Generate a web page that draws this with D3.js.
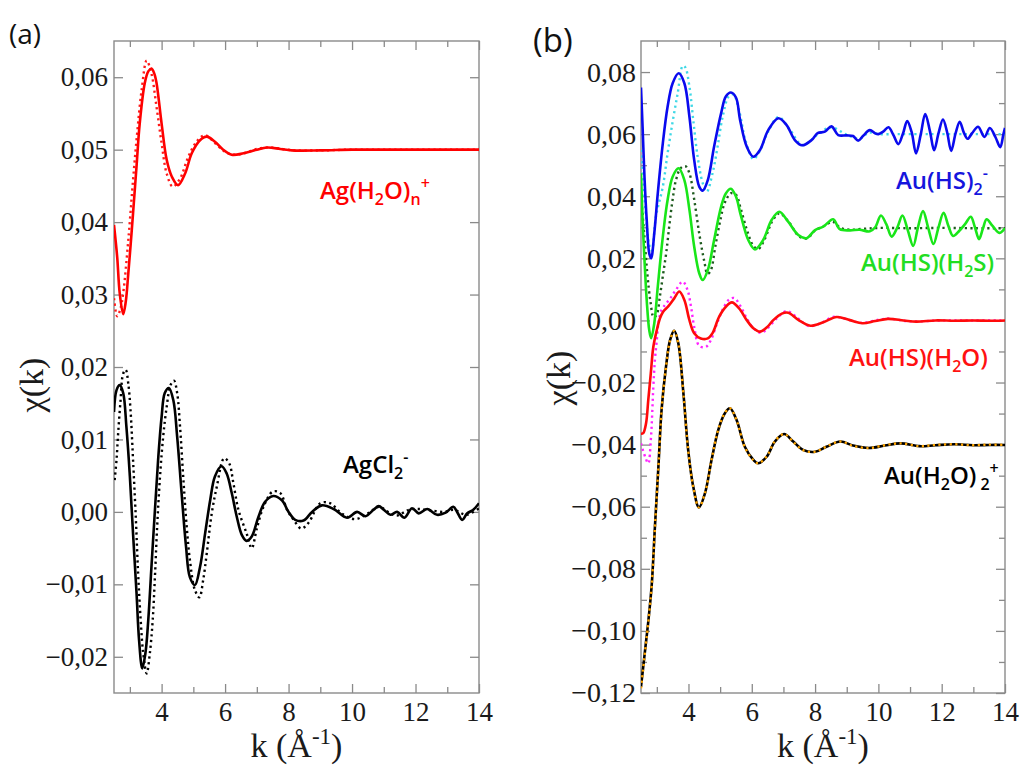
<!DOCTYPE html>
<html><head><meta charset="utf-8">
<script src="https://cdn.jsdelivr.net/npm/d3@7"></script>
<style>html,body{margin:0;padding:0;background:#fff;}svg{display:block;}</style>
</head><body>
<svg id="chart" width="1023" height="767"></svg>
<script>
// ---------------- DATA ----------------
const kMajorTicks = [4, 6, 8, 10, 12, 14];
const kMinorTicks = [3, 5, 7, 9, 11, 13];
const yTicksA = [-0.02, -0.01, 0.00, 0.01, 0.02, 0.03, 0.04, 0.05, 0.06];
const yTicksB = [-0.12, -0.10, -0.08, -0.06, -0.04, -0.02, 0.00, 0.02, 0.04, 0.06, 0.08];
const yMinorB = [-0.11, -0.09, -0.07, -0.05, -0.03, -0.01, 0.01, 0.03, 0.05, 0.07];

// Panel (a): Ag(H2O)n+  (solid / dotted)
const agAqSolid = [[2.5,0.0396],[2.6,0.0352],[2.68,0.0302],[2.79,0.0273],[2.87,0.0290],[2.95,0.0329],[3.03,0.0372],[3.1,0.0412],[3.21,0.0477],[3.31,0.0536],[3.47,0.0592],[3.58,0.0608],[3.68,0.0612],[3.77,0.0605],[3.84,0.0592],[4.0,0.0536],[4.16,0.0486],[4.32,0.0463],[4.52,0.0451],[4.74,0.0467],[4.95,0.0495],[5.21,0.0513],[5.42,0.0518],[5.68,0.0511],[5.94,0.0500],[6.21,0.0493],[6.58,0.0495],[7.0,0.0500],[7.32,0.0503],[7.74,0.0501],[8.1,0.0499],[9.0,0.0499],[10,0.0500],[11,0.0500],[12,0.0500],[13,0.0500],[14,0.0500]];
const agAqDotted = [[2.5,0.0295],[2.6,0.0270],[2.7,0.0280],[2.79,0.0302],[2.95,0.0375],[3.1,0.0458],[3.23,0.0523],[3.37,0.0582],[3.53,0.0623],[3.68,0.0605],[3.84,0.0559],[4.0,0.0509],[4.16,0.0467],[4.35,0.0449],[4.58,0.0460],[4.84,0.0490],[5.1,0.0511],[5.37,0.0520],[5.68,0.0509],[6.0,0.0497],[6.26,0.0493],[6.6,0.0495],[7.0,0.0501],[7.4,0.0503],[7.8,0.0501],[8.2,0.0499],[9,0.0499],[10,0.0500],[11,0.0500],[12,0.0500],[13,0.0500],[14,0.0500]];

// Panel (a): AgCl2-  (solid / dotted)
const agClSolid = [[2.5,0.0138],[2.58,0.0168],[2.68,0.0175],[2.79,0.0164],[2.89,0.0118],[3.0,0.0049],[3.1,-0.0030],[3.21,-0.0112],[3.29,-0.0177],[3.39,-0.0216],[3.49,-0.0195],[3.58,-0.0149],[3.68,-0.0076],[3.79,0.0003],[3.89,0.0072],[4.0,0.0131],[4.1,0.0164],[4.23,0.0171],[4.37,0.0154],[4.49,0.0104],[4.63,0.0026],[4.77,-0.0048],[4.89,-0.0090],[5.05,-0.0101],[5.21,-0.0076],[5.37,-0.0030],[5.53,0.0016],[5.68,0.0049],[5.89,0.0063],[6.05,0.0053],[6.21,0.0026],[6.37,-0.0007],[6.53,-0.0032],[6.68,-0.0040],[6.84,-0.0034],[7.05,-0.0007],[7.26,0.0014],[7.52,0.0022],[7.79,0.0016],[8.0,0.0000],[8.21,-0.0011],[8.47,-0.0012],[8.74,0.0000],[9.05,0.0009],[9.42,0.0004],[9.84,-0.0008],[10.16,0.0000],[10.42,-0.0006],[10.68,0.0003],[10.84,0.0008],[11.0,0.0003],[11.21,-0.0004],[11.42,0.0000],[11.65,-0.0008],[11.89,0.0005],[12.1,-0.0002],[12.37,0.0004],[12.68,-0.0004],[12.95,-0.0001],[13.19,0.0007],[13.31,0.0000],[13.47,-0.0011],[13.63,-0.0002],[13.82,0.0003],[14.0,0.0012]];
const agClDotted = [[2.52,0.0044],[2.58,0.0072],[2.63,0.0108],[2.7,0.0150],[2.79,0.0191],[2.87,0.0196],[2.95,0.0177],[3.02,0.0141],[3.1,0.0072],[3.19,-0.0011],[3.26,-0.0085],[3.34,-0.0149],[3.42,-0.0195],[3.53,-0.0223],[3.63,-0.0195],[3.72,-0.0149],[3.79,-0.0089],[3.86,-0.0020],[3.95,0.0049],[4.05,0.0104],[4.16,0.0145],[4.28,0.0175],[4.39,0.0181],[4.49,0.0164],[4.58,0.0118],[4.68,0.0049],[4.79,-0.0020],[4.89,-0.0066],[5.05,-0.0108],[5.19,-0.0118],[5.31,-0.0094],[5.42,-0.0058],[5.58,-0.0002],[5.74,0.0035],[5.97,0.0074],[6.13,0.0067],[6.26,0.0040],[6.42,0.0003],[6.68,-0.0030],[6.84,-0.0050],[7.0,-0.0023],[7.21,0.0007],[7.5,0.0028],[7.74,0.0026],[7.95,0.0003],[8.16,-0.0011],[8.4,-0.0023],[8.63,-0.0015],[9.0,0.0012],[9.3,0.0012],[9.7,-0.0003],[10.1,-0.0010],[10.5,-0.0002],[10.85,0.0007],[11.2,-0.0002],[11.42,-0.0005],[11.8,0.0003],[12.1,0.0004],[12.5,0.0002],[12.9,0.0000],[13.2,0.0003],[13.6,-0.0004],[14.0,0.0005]];

// Panel (b): Au(HS)2-
const auHS2Solid = [[2.5,0.0750],[2.55,0.0624],[2.61,0.0463],[2.68,0.0324],[2.76,0.0216],[2.82,0.0200],[2.92,0.0281],[3.03,0.0409],[3.19,0.0571],[3.34,0.0688],[3.5,0.0764],[3.69,0.0796],[3.87,0.0764],[4.03,0.0656],[4.18,0.0517],[4.34,0.0431],[4.45,0.0418],[4.61,0.0452],[4.81,0.0560],[5.03,0.0667],[5.18,0.0721],[5.34,0.0734],[5.5,0.0718],[5.63,0.0646],[5.84,0.0560],[6.05,0.0527],[6.26,0.0549],[6.52,0.0613],[6.84,0.0651],[7.1,0.0629],[7.36,0.0581],[7.59,0.0564],[7.89,0.0581],[8.08,0.0603],[8.31,0.0608],[8.52,0.0625],[8.73,0.0597],[9.0,0.0596],[9.2,0.0594],[9.36,0.0579],[9.52,0.0595],[9.73,0.0613],[9.89,0.0603],[10.0,0.0600],[10.15,0.0608],[10.32,0.0622],[10.48,0.0596],[10.63,0.0568],[10.78,0.0603],[10.91,0.0642],[11.05,0.0607],[11.19,0.0538],[11.34,0.0600],[11.48,0.0665],[11.63,0.0609],[11.76,0.0548],[11.9,0.0603],[12.04,0.0647],[12.17,0.0607],[12.3,0.0546],[12.44,0.0603],[12.57,0.0640],[12.7,0.0605],[12.82,0.0585],[12.96,0.0603],[13.15,0.0624],[13.35,0.0591],[13.52,0.0620],[13.7,0.0590],[13.85,0.0558],[13.95,0.0600],[14.0,0.0620]];
const auHS2Dotted = [[2.5,0.0549],[2.58,0.0440],[2.67,0.0320],[2.76,0.0243],[2.84,0.0225],[2.97,0.0334],[3.19,0.0431],[3.34,0.0538],[3.5,0.0640],[3.66,0.0732],[3.82,0.0820],[3.9,0.0815],[4.03,0.0753],[4.15,0.0646],[4.29,0.0527],[4.45,0.0442],[4.58,0.0415],[4.76,0.0474],[4.92,0.0560],[5.08,0.0656],[5.27,0.0721],[5.42,0.0728],[5.6,0.0676],[5.8,0.0580],[6.05,0.0520],[6.25,0.0545],[6.5,0.0605],[6.84,0.0655],[7.2,0.0615],[7.6,0.0565],[8.1,0.0600],[8.5,0.0622],[9.0,0.0598],[9.4,0.0585],[9.7,0.0605],[10.0,0.0600],[10.5,0.0600],[11,0.0600],[12,0.0600],[13,0.0600],[14,0.0600]];

// Panel (b): Au(HS)(H2S)
const auHSH2SSolid = [[2.5,0.0474],[2.55,0.0324],[2.61,0.0195],[2.68,0.0066],[2.76,-0.0031],[2.82,-0.0057],[2.92,-0.0009],[3.03,0.0109],[3.19,0.0270],[3.34,0.0388],[3.5,0.0463],[3.69,0.0490],[3.87,0.0452],[4.03,0.0356],[4.18,0.0238],[4.34,0.0152],[4.45,0.0130],[4.61,0.0162],[4.81,0.0259],[5.03,0.0366],[5.18,0.0409],[5.34,0.0424],[5.5,0.0399],[5.65,0.0340],[5.89,0.0259],[6.1,0.0229],[6.36,0.0259],[6.63,0.0324],[6.87,0.0350],[7.15,0.0318],[7.47,0.0275],[7.73,0.0265],[8.0,0.0291],[8.26,0.0302],[8.57,0.0326],[8.78,0.0294],[9.1,0.0290],[9.4,0.0292],[9.73,0.0287],[9.9,0.0300],[10.08,0.0338],[10.25,0.0310],[10.42,0.0270],[10.6,0.0300],[10.76,0.0338],[10.93,0.0290],[11.1,0.0240],[11.25,0.0300],[11.41,0.0352],[11.57,0.0300],[11.74,0.0246],[11.9,0.0300],[12.06,0.0347],[12.21,0.0305],[12.36,0.0272],[12.55,0.0288],[12.75,0.0312],[12.92,0.0334],[13.05,0.0300],[13.18,0.0262],[13.3,0.0295],[13.42,0.0326],[13.6,0.0305],[13.82,0.0282],[14.0,0.0297]];
const auHSH2SDotted = [[2.5,0.0400],[2.6,0.0280],[2.7,0.0150],[2.8,0.0060],[2.9,0.0010],[3.0,0.0020],[3.1,0.0080],[3.2,0.0150],[3.3,0.0220],[3.4,0.0310],[3.5,0.0390],[3.6,0.0450],[3.75,0.0490],[3.9,0.0497],[4.03,0.0474],[4.18,0.0390],[4.34,0.0280],[4.5,0.0190],[4.6,0.0150],[4.7,0.0160],[4.85,0.0240],[5.0,0.0320],[5.15,0.0380],[5.35,0.0410],[5.5,0.0405],[5.65,0.0360],[5.85,0.0290],[6.05,0.0240],[6.2,0.0230],[6.4,0.0260],[6.65,0.0320],[6.87,0.0345],[7.15,0.0320],[7.5,0.0270],[7.75,0.0265],[8.0,0.0290],[8.3,0.0305],[8.55,0.0318],[8.8,0.0298],[9.1,0.0292],[9.5,0.0295],[10,0.0298],[11,0.0297],[12,0.0298],[13,0.0297],[14,0.0297]];

// Panel (b): Au(HS)(H2O)
const auHSH2OSolid = [[2.5,-0.0365],[2.57,-0.0363],[2.66,-0.0331],[2.73,-0.0256],[2.81,-0.0170],[2.89,-0.0085],[3.0,-0.0031],[3.1,0.0007],[3.2,0.0028],[3.36,0.0045],[3.55,0.0071],[3.71,0.0093],[3.87,0.0066],[4.03,0.0001],[4.18,-0.0041],[4.39,-0.0058],[4.61,-0.0058],[4.76,-0.0041],[4.97,0.0012],[5.18,0.0044],[5.37,0.0058],[5.6,0.0039],[5.84,0.0001],[6.05,-0.0025],[6.26,-0.0036],[6.5,-0.0020],[6.68,0.0001],[6.95,0.0022],[7.15,0.0025],[7.47,0.0002],[7.85,-0.0017],[8.26,-0.0006],[8.68,0.0011],[9.1,0.0001],[9.5,-0.0009],[9.9,-0.0002],[10.3,0.0005],[10.8,0.0000],[11.2,-0.0004],[11.8,0.0000],[12.4,-0.0001],[13.0,0.0000],[13.5,-0.0001],[14,0.0000]];
const auHSH2ODotted = [[2.5,-0.0396],[2.63,-0.0439],[2.73,-0.0460],[2.81,-0.0385],[2.89,-0.0213],[2.94,-0.0127],[3.0,-0.0063],[3.05,-0.0009],[3.15,0.0034],[3.3,0.0055],[3.45,0.0075],[3.6,0.0098],[3.82,0.0125],[3.97,0.0098],[4.08,0.0044],[4.18,-0.0020],[4.34,-0.0082],[4.55,-0.0085],[4.71,-0.0063],[4.9,-0.0010],[5.1,0.0039],[5.29,0.0068],[5.45,0.0072],[5.65,0.0045],[5.85,0.0005],[6.05,-0.0025],[6.3,-0.0040],[6.5,-0.0025],[6.8,0.0008],[7.1,0.0030],[7.4,0.0012],[7.8,-0.0018],[8.2,-0.0008],[8.6,0.0012],[9.0,0.0004],[9.45,-0.0008],[10.0,0.0002],[10.3,0.0006],[11,-0.0003],[12,0.0000],[13,0.0000],[14,0.0000]];

// Panel (b): Au(H2O)2+
const auH2OSolid = [[2.5,-0.1180],[2.63,-0.1061],[2.73,-0.0970],[2.84,-0.0850],[2.94,-0.0664],[3.05,-0.0471],[3.15,-0.0288],[3.29,-0.0149],[3.42,-0.0063],[3.55,-0.0033],[3.68,-0.0074],[3.84,-0.0235],[3.99,-0.0417],[4.15,-0.0535],[4.33,-0.0602],[4.52,-0.0557],[4.73,-0.0449],[4.94,-0.0353],[5.15,-0.0299],[5.31,-0.0283],[5.52,-0.0321],[5.78,-0.0407],[6.05,-0.0449],[6.2,-0.0460],[6.47,-0.0439],[6.73,-0.0390],[7.02,-0.0366],[7.31,-0.0390],[7.62,-0.0417],[8.0,-0.0423],[8.36,-0.0407],[8.8,-0.0390],[9.2,-0.0403],[9.7,-0.0411],[10.2,-0.0403],[10.7,-0.0396],[11.3,-0.0405],[11.8,-0.0402],[12.4,-0.0399],[13.0,-0.0402],[13.5,-0.0401],[14,-0.0401]];
const auH2ODotted = [[2.5,-0.1185],[2.63,-0.1065],[2.73,-0.0972],[2.84,-0.0852],[2.94,-0.0666],[3.05,-0.0473],[3.15,-0.0290],[3.29,-0.0150],[3.42,-0.0064],[3.55,-0.0034],[3.68,-0.0075],[3.84,-0.0236],[3.99,-0.0418],[4.15,-0.0536],[4.33,-0.0602],[4.52,-0.0556],[4.73,-0.0448],[4.94,-0.0352],[5.15,-0.0298],[5.31,-0.0283],[5.52,-0.0322],[5.78,-0.0408],[6.05,-0.0450],[6.2,-0.0460],[6.47,-0.0438],[6.73,-0.0389],[7.02,-0.0366],[7.31,-0.0391],[7.62,-0.0418],[8.0,-0.0423],[8.36,-0.0406],[8.8,-0.0390],[9.2,-0.0404],[9.7,-0.0411],[10.2,-0.0402],[10.7,-0.0396],[11.3,-0.0405],[11.8,-0.0401],[12.4,-0.0399],[13.0,-0.0402],[13.5,-0.0400],[14,-0.0401]];

// ---------------- DRAW ----------------
const svg = d3.select("#chart");
svg.append("rect").attr("width",1023).attr("height",767).attr("fill","#fff");

const fmt = d => d3.format(".2f")(d).replace(".", ",");
const serif = "Liberation Serif";
const sans = "Open Sans";

function panel(cfg) {
  const x = d3.scaleLinear().domain([2.5, 14]).range([cfg.left, cfg.right]);
  const y = d3.scaleLinear().domain(cfg.ydom).range([cfg.bottom, cfg.top]);
  const g = svg.append("g");
  const clipId = "clip" + cfg.id;
  svg.append("clipPath").attr("id", clipId).append("rect")
    .attr("x", cfg.left).attr("y", cfg.top)
    .attr("width", cfg.right - cfg.left).attr("height", cfg.bottom - cfg.top);

  const tickCol = "#8a8a8a";
  const styleAxis = (sel, fs) => {
    sel.attr("font-family", serif).attr("font-size", fs);
    sel.select(".domain").remove();
    sel.selectAll(".tick line").attr("stroke", tickCol).attr("stroke-width", 1.3);
    sel.selectAll(".tick text").attr("font-family", serif).attr("font-size", fs).attr("fill", "#1a1a1a");
  };
  // bottom
  g.append("g").attr("transform", `translate(0,${cfg.bottom})`)
    .call(d3.axisBottom(x).tickValues(kMajorTicks).tickFormat(d3.format("d")).tickSizeInner(-9).tickSizeOuter(0).tickPadding(9))
    .call(s => styleAxis(s, 27));
  g.append("g").attr("transform", `translate(0,${cfg.bottom})`)
    .call(d3.axisBottom(x).tickValues(kMinorTicks).tickFormat("").tickSizeInner(-6).tickSizeOuter(0))
    .call(s => styleAxis(s, 27));
  // top
  g.append("g").attr("transform", `translate(0,${cfg.top})`)
    .call(d3.axisTop(x).tickValues(kMajorTicks).tickFormat("").tickSizeInner(-9).tickSizeOuter(0))
    .call(s => styleAxis(s, 27));
  g.append("g").attr("transform", `translate(0,${cfg.top})`)
    .call(d3.axisTop(x).tickValues(kMinorTicks).tickFormat("").tickSizeInner(-6).tickSizeOuter(0))
    .call(s => styleAxis(s, 27));
  // left
  g.append("g").attr("transform", `translate(${cfg.left},0)`)
    .call(d3.axisLeft(y).tickValues(cfg.yticks).tickFormat(fmt).tickSizeInner(-9).tickSizeOuter(0).tickPadding(cfg.ypad))
    .call(s => styleAxis(s, cfg.yfs));
  g.append("g").attr("transform", `translate(${cfg.right},0)`)
    .call(d3.axisRight(y).tickValues(cfg.yticks).tickFormat("").tickSizeInner(-9).tickSizeOuter(0))
    .call(s => styleAxis(s, cfg.yfs));
  if (cfg.yminor) {
    g.append("g").attr("transform", `translate(${cfg.left},0)`)
      .call(d3.axisLeft(y).tickValues(cfg.yminor).tickFormat("").tickSizeInner(-6).tickSizeOuter(0))
      .call(s => styleAxis(s, cfg.yfs));
    g.append("g").attr("transform", `translate(${cfg.right},0)`)
      .call(d3.axisRight(y).tickValues(cfg.yminor).tickFormat("").tickSizeInner(-6).tickSizeOuter(0))
      .call(s => styleAxis(s, cfg.yfs));
  }
  // frame
  g.append("rect").attr("x", cfg.left).attr("y", cfg.top)
    .attr("width", cfg.right - cfg.left).attr("height", cfg.bottom - cfg.top)
    .attr("fill", "none").attr("stroke", tickCol).attr("stroke-width", 1.4);

  const line = d3.line().x(d => x(d[0])).y(d => y(d[1])).curve(d3.curveCatmullRom.alpha(0.5));
  const lg = g.append("g").attr("clip-path", `url(#${clipId})`);
  cfg.series.forEach(s => {
    lg.append("path").datum(s.data).attr("d", line)
      .attr("fill", "none").attr("stroke", s.color)
      .attr("stroke-width", s.dotted ? 2.4 : 2.6)
      .attr("stroke-dasharray", s.dotted ? "2.2,3.4" : null)
      .attr("stroke-linejoin", "round");
  });

  // axis titles
  const xt = svg.append("text").attr("x", (cfg.left + cfg.right) / 2).attr("y", 757)
    .attr("text-anchor", "middle").attr("font-family", serif).attr("font-size", 34).attr("fill", "#1a1a1a");
  xt.append("tspan").text("k (Å");
  xt.append("tspan").attr("dy", -13).attr("font-size", 23).text("-1");
  xt.append("tspan").attr("dy", 13).text(")");
  svg.append("text").attr("transform", `translate(${cfg.ytx},${cfg.yty}) rotate(-90)`)
    .attr("text-anchor", "middle").attr("font-family", serif).attr("font-size", 34).attr("fill", "#1a1a1a")
    .text("χ(k)");
  svg.append("text").attr("x", cfg.panelX).attr("y", cfg.panelY)
    .attr("font-family", sans).attr("font-size", cfg.panelFs).attr("fill", "#111").text(cfg.panelLabel);

  // series labels
  cfg.labels.forEach(L => {
    const t = svg.append("text").attr("x", L.x).attr("y", L.y)
      .attr("font-family", sans).attr("font-weight", 600).attr("font-size", 24).attr("fill", L.color);
    let shift = 0;
    L.parts.forEach(p => {
      const target = p[1] === "sub" ? 6 : p[1] === "sup" ? -10 : 0;
      const ts = t.append("tspan").attr("dy", target - shift).text(p[0]);
      if (p[1] !== "n") ts.attr("font-size", 16);
      if (p[2]) ts.attr("dx", p[2]);
      shift = target;
    });
  });
}

panel({
  id: "a", left: 114, right: 479, top: 41, bottom: 693, ydom: [-0.025, 0.065],
  yticks: yTicksA, yminor: null, yfs: 27, ypad: 6,
  ytx: 43, yty: 385, panelX: 9, panelY: 44, panelFs: 28, panelLabel: "(a)",
  series: [
    { data: agAqDotted, color: "#ff1a1a", dotted: true },
    { data: agAqSolid, color: "#ff0000" },
    { data: agClDotted, color: "#000", dotted: true },
    { data: agClSolid, color: "#000" }
  ],
  labels: [
    { x: 320, y: 199, color: "#ff0000", parts: [["Ag(H","n"],["2","sub"],["O)","n"],["n","sub"],["+","sup"]] },
    { x: 343, y: 473, color: "#000", parts: [["AgCl","n"],["2","sub"],["-","sup"]] }
  ]
});

panel({
  id: "b", left: 641, right: 1005, top: 41, bottom: 693, ydom: [-0.12, 0.09],
  yticks: yTicksB, yminor: yMinorB, yfs: 28, ypad: 5,
  ytx: 570, yty: 378, panelX: 533, panelY: 52, panelFs: 33, panelLabel: "(b)",
  series: [
    { data: auHS2Dotted, color: "#3fd8e6", dotted: true },
    { data: auHS2Solid, color: "#0a0aee" },
    { data: auHSH2SDotted, color: "#1e5a1e", dotted: true },
    { data: auHSH2SSolid, color: "#19e619" },
    { data: auHSH2ODotted, color: "#ff22ff", dotted: true },
    { data: auHSH2OSolid, color: "#ff0a0a" },
    { data: auH2OSolid, color: "#000" },
    { data: auH2ODotted, color: "#ffa500", dotted: true }
  ],
  labels: [
    { x: 896, y: 189, color: "#1515dd", parts: [["Au(HS)","n"],["2","sub"],["-","sup"]] },
    { x: 861, y: 271, color: "#22dd22", parts: [["Au(HS)(H","n"],["2","sub"],["S)","n"]] },
    { x: 849, y: 366, color: "#ff1111", parts: [["Au(HS)(H","n"],["2","sub"],["O)","n"]] },
    { x: 884, y: 484, color: "#000", parts: [["Au(H","n"],["2","sub"],["O)","n"],["2","sub",4],["+","sup"]] }
  ]
});
</script>
</body></html>
